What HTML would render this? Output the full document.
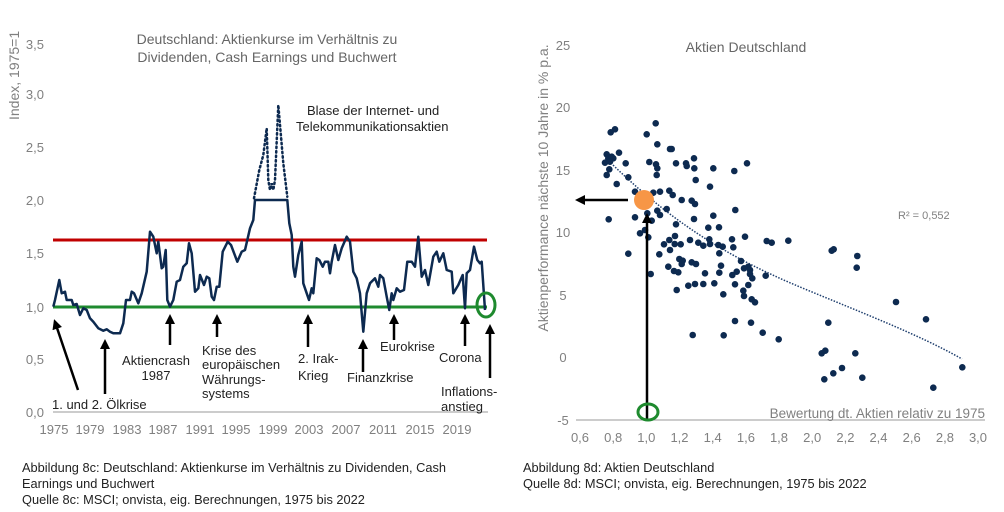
<!DOCTYPE html>
<html><head><meta charset="utf-8"><style>
body{margin:0;background:#fff}
svg{display:block;font-family:"Liberation Sans",sans-serif}
.t{fill:#808080;font-size:13px}
.l{fill:#222;font-size:13px}
</style></head><body>
<svg width="1004" height="512" viewBox="0 0 1004 512">
<defs><marker id="ah" markerWidth="10" markerHeight="10" refX="7" refY="5" orient="auto" markerUnits="userSpaceOnUse"><path d="M0,0 L10,5 L0,10 Z" fill="#000"/></marker></defs>
<!-- LEFT -->
<text x="267" y="44" text-anchor="middle" class="t" style="font-size:14px;fill:#666">Deutschland: Aktienkurse im Verhältnis zu</text>
<text x="267" y="62" text-anchor="middle" class="t" style="font-size:14px;fill:#666">Dividenden, Cash Earnings und Buchwert</text>
<text transform="translate(19,120) rotate(-90)" class="t" style="font-size:14px">Index, 1975=1</text>
<g class="t" text-anchor="end">
<text x="44" y="49">3,5</text><text x="44" y="99">3,0</text><text x="44" y="152">2,5</text><text x="44" y="205">2,0</text><text x="44" y="258">1,5</text><text x="44" y="312">1,0</text><text x="44" y="364">0,5</text><text x="44" y="417">0,0</text>
</g>
<g class="t" text-anchor="middle">
<text x="54" y="434">1975</text><text x="90" y="434">1979</text><text x="127" y="434">1983</text><text x="163" y="434">1987</text><text x="200" y="434">1991</text><text x="236" y="434">1995</text><text x="273" y="434">1999</text><text x="309" y="434">2003</text><text x="346" y="434">2007</text><text x="383" y="434">2011</text><text x="420" y="434">2015</text><text x="457" y="434">2019</text>
</g>
<line x1="53" y1="412" x2="488" y2="412" stroke="#999" stroke-width="1"/>
<line x1="53" y1="240" x2="487" y2="240" stroke="#c00000" stroke-width="3"/>
<line x1="53" y1="307" x2="487" y2="307" stroke="#1e8a2e" stroke-width="3"/>
<polyline id="ln" fill="none" stroke="#0d2a50" stroke-width="2.5" stroke-linejoin="round"/>
<polyline id="dl" fill="none" stroke="#0d2a50" stroke-width="2.5" stroke-dasharray="1.5 3" stroke-linecap="round"/>
<ellipse cx="486" cy="305" rx="9" ry="12" fill="none" stroke="#1e8a2e" stroke-width="3"/>
<g stroke="#000" stroke-width="2.5" marker-end="url(#ah)">
<line x1="78" y1="390" x2="55" y2="322"/>
<line x1="105" y1="394" x2="105" y2="342"/>
<line x1="170" y1="345" x2="170" y2="317"/>
<line x1="217" y1="337" x2="217" y2="317"/>
<line x1="308" y1="347" x2="308" y2="317"/>
<line x1="363" y1="372" x2="363" y2="342"/>
<line x1="394" y1="340" x2="394" y2="317"/>
<line x1="465" y1="346" x2="465" y2="317"/>
<line x1="490" y1="378" x2="490" y2="327"/>
</g>
<g class="l">
<text x="156" y="365" text-anchor="middle">Aktiencrash</text><text x="156" y="380" text-anchor="middle">1987</text>
<text x="202" y="355">Krise des</text><text x="202" y="369">europäischen</text><text x="202" y="384">Währungs-</text><text x="202" y="398">systems</text>
<text x="298" y="363">2. Irak-</text><text x="298" y="380">Krieg</text>
<text x="347" y="382">Finanzkrise</text>
<text x="380" y="351">Eurokrise</text>
<text x="439" y="362">Corona</text>
<text x="441" y="396">Inflations-</text><text x="441" y="411">anstieg</text>
<text x="52" y="409">1. und 2. Ölkrise</text>
<text x="307" y="115">Blase der Internet- und</text><text x="296" y="131">Telekommunikationsaktien</text>
</g>
<g class="l" style="font-size:12.8px">
<text x="22" y="472">Abbildung 8c: Deutschland: Aktienkurse im Verhältnis zu Dividenden, Cash</text>
<text x="22" y="488">Earnings und Buchwert</text>
<text x="22" y="504">Quelle 8c: MSCI; onvista, eig. Berechnungen, 1975 bis 2022</text>
<text x="523" y="472">Abbildung 8d: Aktien Deutschland</text>
<text x="523" y="488">Quelle 8d: MSCI; onvista, eig. Berechnungen, 1975 bis 2022</text>
</g>
<!-- RIGHT -->
<text x="746" y="52" text-anchor="middle" class="t" style="font-size:14px;fill:#666">Aktien Deutschland</text>
<text transform="translate(548,188) rotate(-90)" text-anchor="middle" class="t" style="font-size:14px">Aktienperformance nächste 10 Jahre in % p.a.</text>
<g class="t" text-anchor="middle">
<text x="563" y="50">25</text><text x="563" y="112">20</text><text x="563" y="175">15</text><text x="563" y="237">10</text><text x="563" y="300">5</text><text x="563" y="362">0</text><text x="563" y="425">-5</text>
</g>
<g class="t" text-anchor="middle" id="xt"></g>
<line x1="576" y1="420" x2="985" y2="420" stroke="#999"/>
<text x="985" y="418" text-anchor="end" class="t" style="font-size:13.5px">Bewertung dt. Aktien relativ zu 1975</text>
<text x="898" y="219" class="t" style="font-size:11px">R² = 0,552</text>
<path d="M613,165 C680,230 740,262 800,287 S920,335 962,359" fill="none" stroke="#1f3f6e" stroke-width="1.5" stroke-dasharray="1.5 1.5"/>
<g id="dots" fill="#0d2a50"></g>
<line x1="647" y1="420" x2="647" y2="216" stroke="#000" stroke-width="2.5" marker-end="url(#ah)"/>
<line x1="628" y1="200" x2="578" y2="200" stroke="#000" stroke-width="2.5" marker-end="url(#ah)"/>
<circle cx="644" cy="200" r="10" fill="#f79646"/>
<ellipse cx="648" cy="412" rx="10" ry="8" fill="none" stroke="#1e8a2e" stroke-width="3"/>
</svg>
<script>
var L=[160,680,165,660,178,600,185,640,195,635,200,660,215,660,220,675,230,672,240,705,250,685,260,690,270,715,280,725,295,745,310,752,320,748,330,755,340,760,360,760,370,730,378,660,390,660,395,635,402,640,415,670,425,640,440,575,450,455,460,470,470,520,475,485,485,565,490,560,497,510,502,660,510,680,520,660,530,605,540,600,550,560,560,550,567,490,575,520,585,635,595,625,600,585,612,615,620,590,628,595,635,650,642,660,650,620,658,620,668,515,683,485,693,495,712,545,725,515,735,510,750,445,760,420,765,360,862,360,868,430,875,465,880,560,885,590,895,525,905,485,910,610,920,640,927,660,935,625,940,640,950,535,958,540,968,560,975,545,985,545,990,580,995,545,1005,495,1015,540,1025,505,1040,470,1050,485,1060,575,1070,595,1080,640,1090,755,1100,640,1110,610,1125,595,1135,620,1140,585,1150,595,1160,650,1168,690,1175,640,1180,660,1190,625,1200,635,1212,630,1222,545,1235,545,1245,560,1255,470,1265,590,1275,570,1285,615,1300,530,1310,515,1318,545,1330,520,1340,570,1355,575,1360,640,1375,615,1388,585,1395,685,1400,580,1410,570,1422,500,1432,540,1440,550,1445,545,1455,690];
function cv(a,ox,oy){var s=[];for(var i=0;i<a.length;i+=2)s.push((a[i]/3+ox).toFixed(1)+','+(a[i+1]/3+oy).toFixed(1));return s.join(' ');}
document.getElementById('ln').setAttribute('points',cv(L,0,80));
var D=[762,355,778,270,790,225,800,145,805,300,810,330,815,310,820,330,825,300,835,75,850,250,862,350];
document.getElementById('dl').setAttribute('points',cv(D,0,80));
var P=[272,97,285,88,407,70,380,103,412,133,450,147,455,147,260,163,265,175,275,170,280,175,297,158,255,188,270,185,317,190,268,208,260,225,325,232,290,252,388,186,408,193,412,205,410,225,468,190,498,190,500,198,522,175,523,205,580,205,643,213,681,190,527,240,570,260,345,275,400,278,420,275,448,272,458,285,485,300,515,302,525,312,440,327,412,332,420,345,345,352,382,340,395,362,266,358,522,357,580,347,646,330,468,373,565,383,597,382,360,400,375,390,385,412,325,461,418,463,432,433,448,420,465,408,464,432,482,433,450,450,510,420,535,428,550,437,568,418,570,432,595,435,608,440,598,460,636,418,640,442,675,410,740,423,755,428,805,422,445,500,462,513,475,517,478,477,488,482,485,492,515,487,528,492,603,497,598,518,555,520,637,525,650,515,663,483,672,505,685,500,690,510,690,522,697,535,737,527,645,553,685,555,550,552,583,550,525,552,505,557,470,570,610,583,670,572,672,588,695,598,705,607,392,522,518,705,611,706,645,663,693,668,728,698,776,718,925,668,935,452,941,448,1012,468,1010,503,1128,606,1218,658,905,760,916,752,1006,760,913,838,940,820,966,804,1027,833,1240,863,1327,802];
var g=document.getElementById('dots'),h='';
for(var i=0;i<P.length;i+=2)h+='<circle cx="'+(P[i]/3+520).toFixed(1)+'" cy="'+(P[i+1]/3+100).toFixed(1)+'" r="3.3"/>';
g.innerHTML=h;
var xt=document.getElementById('xt'),s='';
for(var k=0;k<13;k++){var v=(0.6+0.2*k).toFixed(1).replace('.',',');s+='<text x="'+(580+k*33.17).toFixed(1)+'" y="442">'+v+'</text>';}
xt.innerHTML=s;
</script>
</body></html>
